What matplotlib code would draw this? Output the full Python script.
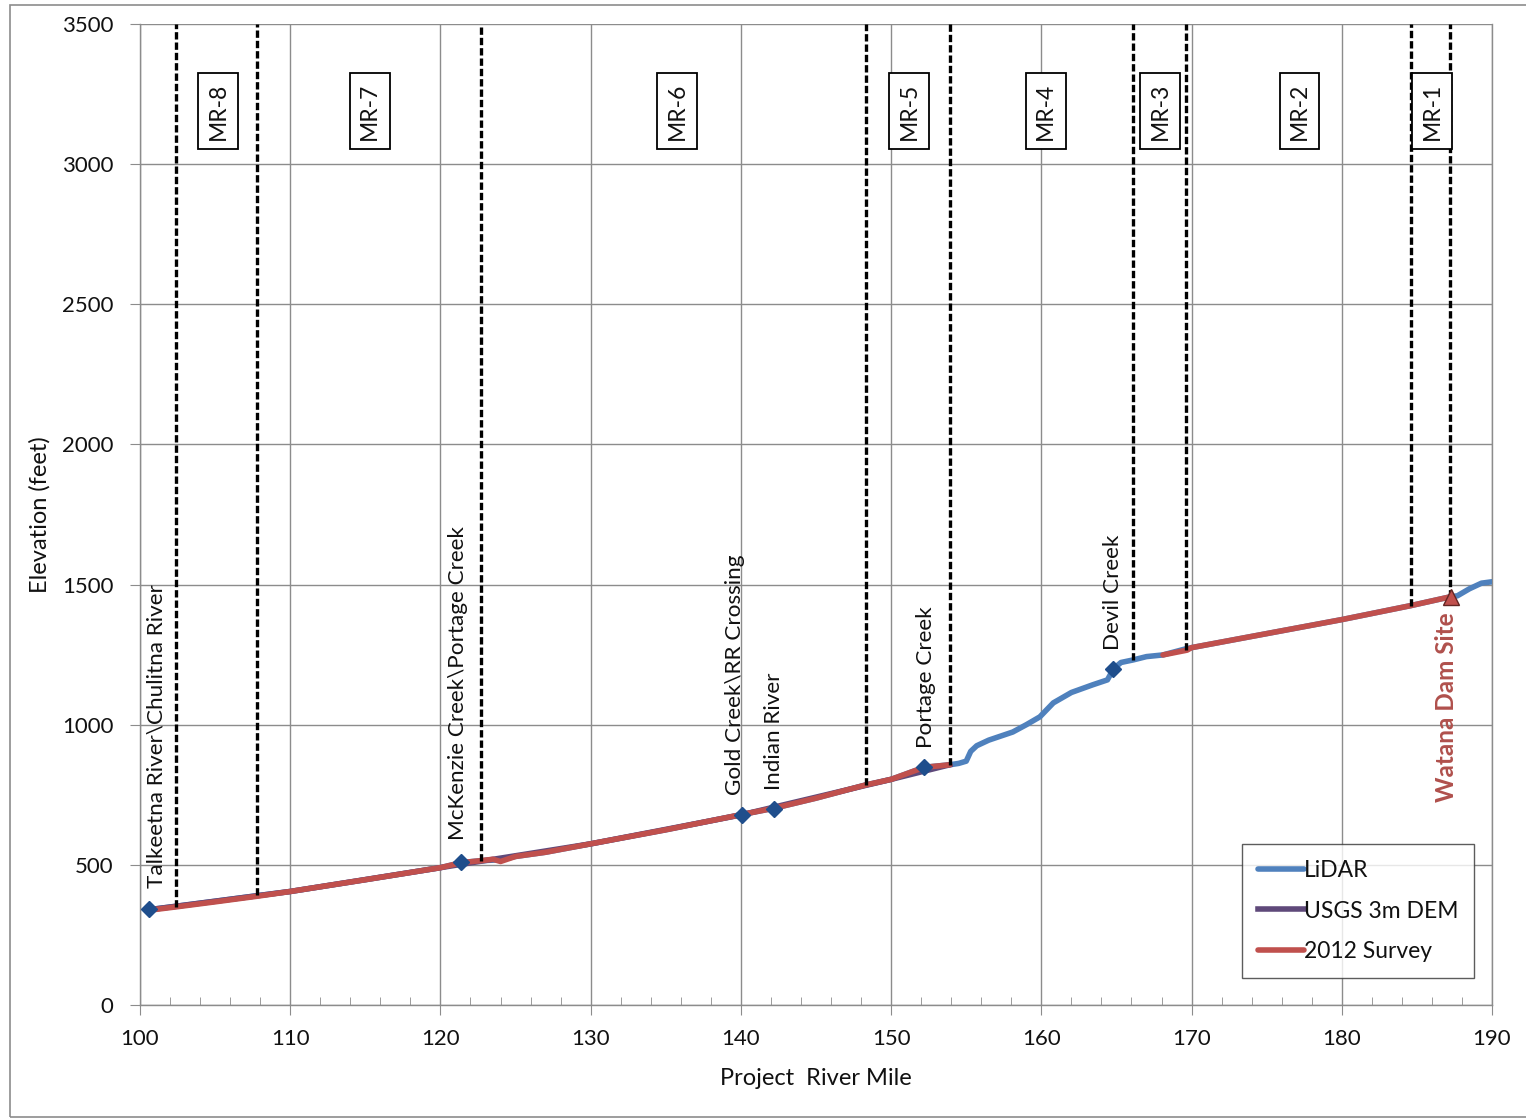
import matplotlib
matplotlib.use("Agg")
import matplotlib.pyplot as plt
from matplotlib.patches import Rectangle

plt.rcParams['font.family'] = ['Lato', 'DejaVu Sans']

# ---------------- data ----------------
lidar_mile = [100.6, 102.4, 105, 107.8, 110, 115, 120, 121.4, 122.7, 124, 125, 127, 130,
              135, 140.1, 142.2, 145, 148.3, 150, 152.2, 153.9, 154.5, 155.0, 155.3, 155.7,
              156.5, 158.1, 159.0, 159.9, 160.8, 162.0, 163.4, 164.4, 164.8, 165.3, 166.1,
              167.0, 168.1, 169.7, 170, 175, 180, 184.6, 187.2, 187.7, 188.5, 189.3, 190]
lidar_elev = [340, 352, 370, 390, 405, 447, 490, 508, 515, 518, 530, 545, 575,
              625, 680, 702, 738, 785, 805, 848, 857, 862, 870, 905, 925,
              945, 974, 1000, 1028, 1078, 1115, 1142, 1160, 1199, 1222, 1231,
              1243, 1249, 1272, 1275, 1325, 1375, 1425, 1456, 1460, 1485, 1505, 1510]

usgs_mile = [100.6, 110, 120, 130, 140, 150, 153.9]
usgs_elev = [340, 405, 490, 575, 678, 805, 857]

survey1_mile = [100.6, 102.4, 105, 107.8, 110, 115, 120, 121.4, 122.7, 123.5, 124, 125, 127,
                130, 135, 140.1, 142.2, 145, 148.3, 150, 152.2, 153.9]
survey1_elev = [338, 350, 368, 388, 405, 447, 490, 508, 515, 520, 512, 530, 545,
                575, 625, 680, 702, 738, 785, 805, 848, 857]
survey2_mile = [168.1, 169.7, 170, 175, 180, 184.6, 187.2]
survey2_elev = [1249, 1266, 1275, 1325, 1375, 1425, 1456]

# reach boundaries: mile and elevation where the dashed line stops
boundary_mile = [102.4, 107.8, 122.7, 148.3, 153.9, 166.1, 169.6, 184.6, 187.2]
boundary_elev = [350, 392, 512, 785, 857, 1231, 1267, 1425, 1456]

reach_names = ["MR-8", "MR-7", "MR-6", "MR-5", "MR-4", "MR-3", "MR-2", "MR-1"]
reach_center = [105.2, 115.3, 135.75, 151.2, 160.3, 167.9, 177.2, 186.0]

site_names = ["Talkeetna River\\Chulitna River", "McKenzie Creek\\Portage Creek",
              "Gold Creek\\RR Crossing", "Indian River", "Portage Creek", "Devil Creek"]
site_mile = [100.6, 121.4, 140.1, 142.2, 152.2, 164.8]
site_elev = [343, 510, 678, 700, 849, 1200]
site_label_mile = [101.1, 121.2, 139.6, 142.2, 152.3, 164.8]
site_label_elev = [418, 589, 750, 767, 917, 1267]

dam_name = "Watana Dam Site"
dam_mile = 187.3
dam_elev = 1456

x_ticks = [100, 110, 120, 130, 140, 150, 160, 170, 180, 190]
y_ticks = [0, 500, 1000, 1500, 2000, 2500, 3000, 3500]

# ---------------- plot ----------------
W, H = 1526, 1119
fig = plt.figure(figsize=(W / 100, H / 100), dpi=100)
ax = fig.add_axes([140 / W, 1 - 1005 / H, (1492 - 140) / W, (1005 - 24) / H])

blue = '#4F81BD'
purple = '#5F497A'
red = '#C0504D'

ax.plot(lidar_mile, lidar_elev, color=blue, lw=4.0, label='LiDAR', zorder=3,
        solid_capstyle='round')
ax.plot(usgs_mile, usgs_elev, color=purple, lw=4.0, label='USGS 3m DEM', zorder=3.1)
ax.plot(survey1_mile, survey1_elev, color=red, lw=4.0, label='2012 Survey', zorder=3.2,
        solid_capstyle='round')
ax.plot(survey2_mile, survey2_elev, color=red, lw=4.0, zorder=3.2, solid_capstyle='round')

for m, e in zip(boundary_mile, boundary_elev):
    ax.plot([m, m], [e, 3500], color='black', lw=2.4, ls=(0, (2.2, 0.9)), zorder=4)

for name, m in zip(reach_names, reach_center):
    ax.text(m, 3190, name, rotation=90, ha='center', va='center', fontsize=16.5,
            color='#111111', zorder=5,
            bbox=dict(boxstyle='square,pad=0.4', fc='white', ec='black', lw=1.3))

ax.plot(site_mile, site_elev, ls='none', marker='D', ms=8, color='#1F4E8C',
        markeredgecolor='#1F4E8C', zorder=6)
for name, m, e in zip(site_names, site_label_mile, site_label_elev):
    ax.text(m, e, name, rotation=90, ha='center', va='bottom', fontsize=16.2,
            color='#111111', zorder=5)

ax.plot([dam_mile], [dam_elev], ls='none', marker='^', ms=12, color=red,
        markeredgecolor='#632523', markeredgewidth=1.0, zorder=6)
ax.text(187.0, 1400, dam_name, rotation=90, ha='center', va='top', fontsize=17.5,
        fontweight='bold', color='#B0504C', zorder=5)

ax.set_xlim(100, 190)
ax.set_ylim(0, 3500)
ax.set_xticks(x_ticks)
ax.set_yticks(y_ticks)
ax.set_xticks(range(100, 191, 2), minor=True)
ax.grid(True, which='major', color='#8C8C8C', lw=1.0, zorder=0)
ax.set_axisbelow(True)

for s in ax.spines.values():
    s.set_color('#8C8C8C')
    s.set_linewidth(1.0)
ax.spines['top'].set_visible(False)

ax.tick_params(axis='x', which='major', direction='out', length=7, color='#8C8C8C',
               labelsize=16, pad=10, labelcolor='#111111')
ax.tick_params(axis='x', which='minor', direction='in', length=6, color='#8C8C8C')
ax.tick_params(axis='y', which='major', direction='out', length=7, color='#8C8C8C',
               labelsize=16, pad=12, labelcolor='#111111')

ax.set_xlabel('Project  River Mile', fontsize=17, color='#111111', labelpad=14)
ax.set_ylabel('Elevation (feet)', fontsize=17, color='#111111', labelpad=8)

leg = ax.legend(loc='lower right', bbox_to_anchor=(0.987, 0.0275), fontsize=16.5,
                frameon=True, fancybox=False, edgecolor='#333333', handlelength=2.0,
                handletextpad=0.0, labelspacing=0.85, borderpad=0.7, borderaxespad=0)
leg.get_frame().set_linewidth(1.0)
for t in leg.get_texts():
    t.set_color('#111111')

fig.patches.append(Rectangle((10 / W, 2 / H), 1.0, 1 - 7 / H, transform=fig.transFigure,
                             fill=False, ec='#8C8C8C', lw=1.2))

fig.savefig('out.png', dpi=100)
